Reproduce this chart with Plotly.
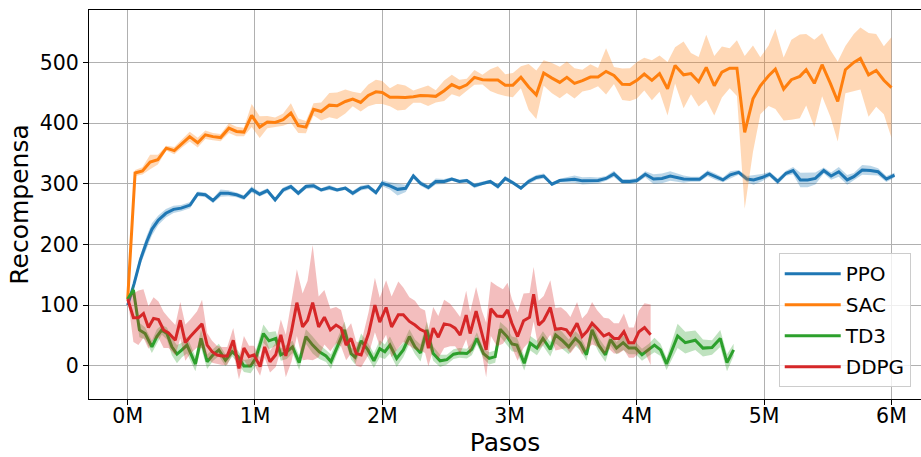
import plotly.graph_objects as go

# ---------------- data (steps in millions) ----------------
ppo_x = [0, 0.05, 0.1, 0.15, 0.19, 0.24, 0.3, 0.36, 0.42, 0.49, 0.55, 0.61, 0.67, 0.73, 0.79, 0.855, 0.913, 0.974, 1.037, 1.097,
         1.158, 1.221, 1.282, 1.34, 1.40, 1.46, 1.52, 1.584, 1.645, 1.71, 1.768, 1.83, 1.89, 1.95, 2.0, 2.06, 2.12, 2.184, 2.244, 2.30,
         2.362, 2.42, 2.486, 2.546, 2.606, 2.664, 2.724, 2.787, 2.848, 2.908, 2.966, 3.026, 3.089, 3.15, 3.21, 3.268, 3.333, 3.394, 3.45, 3.51,
         3.572, 3.635, 3.695, 3.758, 3.82, 3.885, 3.945, 4.0, 4.066, 4.131, 4.197, 4.262, 4.367, 4.425, 4.493, 4.556, 4.616, 4.676, 4.734, 4.80,
         4.865, 4.917, 4.983, 5.043, 5.106, 5.172, 5.227, 5.284, 5.342, 5.402, 5.468, 5.526, 5.586, 5.652, 5.704, 5.77, 5.835, 5.895, 5.96, 6.024]
ppo_mean = [100, 135, 175, 205, 225, 240, 251.5, 258, 260, 265, 283.5, 282, 272.5, 284.6, 284.6, 282, 277.4, 291, 283, 289,
            273.6, 290, 295.6, 284.6, 295.6, 297, 290, 294, 290, 293, 284.6, 293, 295.6, 285.7, 301, 296.7, 291, 292.8, 313, 301,
            294, 304, 304, 308, 304, 305.5, 297, 301, 304, 295.6, 309, 302, 293, 304, 310.5, 313, 299.5, 305.5, 306.6, 307.7,
            305, 305.5, 305.5, 309, 316.5, 304, 304, 305.5, 316, 308, 309, 313, 308, 307.7, 307.7, 317.6, 312, 306.6, 315, 319,
            308, 306.6, 310.5, 316, 304, 317.6, 322, 306.6, 306.6, 309, 322, 313, 320, 306.6, 312, 323, 322, 320, 308, 314.6]
ppo_std = [0, 6, 8, 10, 10, 8, 7, 6, 5, 5, 4, 4, 4, 6, 5, 4, 4, 5, 4, 4,
           4, 4, 4, 4, 4, 4, 3, 4, 3, 3, 4, 4, 4, 4, 5, 6, 10, 6, 4, 4,
           4, 5, 4, 3, 3, 3, 4, 3, 3, 4, 4, 3, 3, 4, 4, 4, 3, 3, 4, 6,
           6, 6, 5, 4, 5, 4, 4, 4, 5, 8, 8, 8, 6, 4, 4, 5, 5, 4, 6, 4,
           5, 8, 6, 4, 5, 4, 6, 12, 12, 10, 5, 6, 8, 8, 6, 8, 8, 6, 5, 4]

sac_x = [0, 0.058, 0.116, 0.176, 0.237, 0.303, 0.366, 0.426, 0.487, 0.55, 0.61, 0.67, 0.73, 0.795, 0.855, 0.913, 0.974, 1.037, 1.097, 1.158,
         1.221, 1.282, 1.34, 1.40, 1.46, 1.52, 1.584, 1.645, 1.71, 1.768, 1.83, 1.89, 1.95, 2.0, 2.06, 2.12, 2.18, 2.244, 2.30, 2.36,
         2.42, 2.486, 2.546, 2.606, 2.664, 2.724, 2.787, 2.848, 2.908, 2.966, 3.026, 3.089, 3.15, 3.21, 3.268, 3.333, 3.394, 3.45, 3.51, 3.572,
         3.635, 3.695, 3.758, 3.82, 3.885, 3.945, 4.0, 4.058, 4.118, 4.178, 4.241, 4.30, 4.367, 4.425, 4.485, 4.545, 4.608, 4.668, 4.729, 4.786,
         4.847, 4.912, 4.97, 5.035, 5.088, 5.153, 5.214, 5.28, 5.33, 5.394, 5.455, 5.52, 5.578, 5.638, 5.704, 5.756, 5.82, 5.88, 5.94, 6.0]
sac_mean = [110, 318, 321.5, 336, 340, 359, 355, 367, 378, 368, 381, 378, 376.5, 392, 386.5, 385.5, 413, 393.7, 402, 401.5,
            406, 417, 396, 393.7, 423, 419.5, 430, 429, 436, 440, 434.5, 446, 452, 451, 443, 443, 442.5, 444, 446, 445.5,
            444.5, 453.7, 464, 458, 463.6, 475.8, 472, 471.3, 471.3, 463, 463, 476, 460, 447, 483, 474.6, 467.5, 476, 466, 470.5,
            476.3, 476.3, 485.7, 479, 464.5, 464, 471, 481.3, 471, 482, 457, 495.6, 480, 482, 468.6, 492.3, 462, 484.6, 491, 491,
            385, 440.5, 462, 478.5, 489.5, 456.5, 472, 477.4, 488.4, 466, 496.7, 466, 436, 488.4, 500.5, 507, 480, 487.3, 471, 459]
sac_std = [0, 5, 6, 12, 8, 4, 6, 7, 8, 8, 7, 6, 6, 8, 8, 7, 19, 18, 10, 8,
           10, 16, 12, 10, 10, 15, 20, 22, 20, 12, 15, 18, 20, 19, 15, 22, 20, 10, 12, 17,
           10, 17, 16, 14, 10, 12, 8, 18, 23, 18, 20, 18, 38, 40, 21, 25, 26, 26, 25, 18,
           21, 15, 38, 14, 26, 27, 30, 27, 33, 30, 44, 30, 55, 34, 41, 54, 49, 42, 33, 46,
           126, 88, 47, 50, 66, 52, 66, 69, 59, 72, 52, 55, 66, 39, 47, 51, 69, 60, 56, 83]

td3_x = [0, 0.045, 0.092, 0.137, 0.19, 0.229, 0.268, 0.308, 0.347, 0.387, 0.426, 0.466, 0.532, 0.576, 0.624, 0.671, 0.716, 0.768, 0.821, 0.866,
         0.913, 0.966, 1.005, 1.066, 1.11, 1.163, 1.203, 1.25, 1.295, 1.347, 1.4, 1.453, 1.505, 1.558, 1.597, 1.65, 1.703, 1.755, 1.787, 1.834,
         1.887, 1.934, 1.98, 2.02, 2.06, 2.113, 2.165, 2.213, 2.257, 2.30, 2.35, 2.40, 2.454, 2.507, 2.56, 2.606, 2.664, 2.703, 2.743, 2.795,
         2.84, 2.887, 2.926, 2.98, 3.018, 3.058, 3.115, 3.163, 3.215, 3.262, 3.32, 3.362, 3.412, 3.465, 3.517, 3.556, 3.604, 3.648, 3.70, 3.753,
         3.793, 3.84, 3.892, 3.937, 3.99, 4.04, 4.094, 4.138, 4.186, 4.233, 4.32, 4.38, 4.459, 4.519, 4.59, 4.655, 4.708, 4.76]
td3_mean = [110, 125, 59, 53, 31, 48, 59, 53, 31, 19, 26, 34, 2.7, 45, 6.6, 18, 26, 9, 23, 15,
            -0.5, -0.5, 12, 53, 41, 45, 18, 23, 31, 5, 48, 34, 23, 16, 6.6, 34, 59, 20, 14, 41,
            26, 8, 28, 23, 34, 12, 26, 48, 31, 21, 59, 20, 8, 10, 19, 21, 20, 27, 45, 20,
            12, 15, 60, 48, 36, 34, 4, 37, 29, 45, 27, 50.5, 42, 31, 45, 37, 18, 59, 34, 18,
            43, 29, 38, 29, 29, 18, 26, 34, 26, 3, 49, 38, 42, 29, 30, 45, 5, 26]
td3_std = [0, 10, 12, 10, 10, 12, 8, 10, 14, 15, 12, 14, 12, 15, 12, 10, 10, 10, 8, 10,
           10, 12, 12, 15, 14, 12, 10, 12, 10, 12, 12, 14, 12, 10, 12, 12, 14, 10, 12, 12,
           12, 12, 14, 12, 14, 14, 12, 12, 12, 14, 14, 12, 10, 8, 8, 8, 8, 10, 10, 8,
           10, 10, 12, 14, 12, 12, 12, 12, 12, 12, 12, 14, 14, 12, 12, 12, 10, 14, 12, 12,
           10, 10, 12, 10, 10, 10, 10, 12, 10, 10, 20, 18, 16, 14, 12, 14, 14, 10]

ddpg_x = [0, 0.045, 0.084, 0.124, 0.163, 0.203, 0.242, 0.282, 0.321, 0.374, 0.413, 0.453, 0.492, 0.545, 0.584, 0.624, 0.663, 0.703, 0.742, 0.782,
          0.829, 0.874, 0.913, 0.953, 0.992, 1.04, 1.076, 1.118, 1.163, 1.203, 1.242, 1.287, 1.329, 1.374, 1.413, 1.453, 1.5, 1.545, 1.592, 1.637,
          1.676, 1.716, 1.755, 1.795, 1.834, 1.892, 1.942, 1.98, 2.03, 2.073, 2.126, 2.165, 2.213, 2.257, 2.297, 2.336, 2.362, 2.40, 2.44, 2.486,
          2.533, 2.572, 2.612, 2.659, 2.69, 2.737, 2.782, 2.816, 2.853, 2.90, 2.948, 2.984, 3.018, 3.063, 3.11, 3.157, 3.189, 3.228, 3.268, 3.32,
          3.36, 3.404, 3.446, 3.478, 3.53, 3.57, 3.61, 3.648, 3.688, 3.74, 3.78, 3.82, 3.858, 3.898, 3.937, 3.976, 4.016, 4.06, 4.108]
ddpg_mean = [110, 79, 79, 86, 63, 78, 76, 59, 54, 42, 75, 38, 48, 60, 69, 34, 23, 17.6, 16, 16,
             42, -4.4, 29, 15, 18, -1.6, 31, 6.6, 18, 51, 16, 57, 104, 64, 75, 104, 64, 80, 59, 67,
             62, 34, 45, 20, 17.6, 53, 100, 72, 96, 64, 84, 84, 73, 67, 60, 56, 29, 62, 47, 69,
             67, 62, 50.5, 83.5, 53, 90, 56, 26, 94, 82, 81, 92, 70, 48, 74, 80, 118, 67, 75, 96,
             60, 61.5, 59, 50.5, 70, 48, 57, 70, 61.5, 49, 53, 45, 45, 56, 38, 38, 56, 63, 51]
ddpg_std = [0, 40, 45, 40, 35, 35, 30, 30, 25, 25, 30, 30, 28, 30, 40, 20, 18, 15, 15, 15,
            20, 18, 20, 18, 15, 15, 18, 18, 20, 25, 35, 50, 55, 55, 65, 95, 50, 45, 35, 30,
            30, 25, 25, 20, 20, 35, 45, 40, 45, 50, 55, 45, 40, 40, 35, 35, 30, 35, 35, 40,
            35, 30, 30, 40, 35, 40, 35, 45, 45, 50, 45, 45, 40, 40, 45, 40, 45, 40, 40, 45,
            35, 35, 30, 30, 35, 30, 30, 35, 30, 30, 25, 25, 25, 30, 25, 25, 35, 40, 50]

names = ["PPO", "SAC", "TD3", "DDPG"]
xs = [ppo_x, sac_x, td3_x, ddpg_x]
means = [ppo_mean, sac_mean, td3_mean, ddpg_mean]
stds = [ppo_std, sac_std, td3_std, ddpg_std]
colors = ["#1f77b4", "#ff7f0e", "#2ca02c", "#d62728"]
fills = ["rgba(31,119,180,0.3)", "rgba(255,127,14,0.3)", "rgba(44,160,44,0.3)", "rgba(214,39,40,0.3)"]

x_ticks = [0, 1, 2, 3, 4, 5, 6]
x_ticktext = ["0M", "1M", "2M", "3M", "4M", "5M", "6M"]
y_ticks = [0, 100, 200, 300, 400, 500]

fig = go.Figure()
for i, name in enumerate(names):
    x, m, s = xs[i], means[i], stds[i]
    assert len(x) == len(m) == len(s), name
    upper = [a + b for a, b in zip(m, s)]
    lower = [a - b for a, b in zip(m, s)]
    fig.add_trace(go.Scatter(x=x + x[::-1], y=upper + lower[::-1], fill="toself",
                             fillcolor=fills[i], line=dict(width=0), mode="lines",
                             showlegend=False, hoverinfo="skip"))
    fig.add_trace(go.Scatter(x=x, y=m, mode="lines", name=name, legendgroup=name,
                             line=dict(color=colors[i], width=3)))

fig.update_layout(
    width=921, height=457,
    margin=dict(l=89, r=0, t=10, b=58),
    plot_bgcolor="white", paper_bgcolor="white",
    font=dict(family="DejaVu Sans", size=20.5, color="black"),
    legend=dict(x=0.829, y=0.375, xanchor="left", yanchor="top",
                bgcolor="rgba(255,255,255,0.8)", bordercolor="#cccccc", borderwidth=1,
                font=dict(size=20), tracegroupgap=2, itemwidth=56),
)
fig.update_xaxes(range=[-0.304, 6.232], tickvals=x_ticks, ticktext=x_ticktext,
                 showgrid=True, gridcolor="#b0b0b0", gridwidth=1,
                 showline=True, linecolor="black", linewidth=1, mirror=True,
                 ticks="outside", ticklen=5, tickcolor="black", zeroline=False,
                 ticklabelstandoff=-7,
                 title=dict(text="Pasos", font=dict(size=25), standoff=6))
fig.update_yaxes(range=[-55, 587], tickvals=y_ticks,
                 showgrid=True, gridcolor="#b0b0b0", gridwidth=1,
                 showline=True, linecolor="black", linewidth=1, mirror=False,
                 ticks="outside", ticklen=5, tickcolor="black", zeroline=False,
                 title=dict(text="Recompensa", font=dict(size=25), standoff=4))

fig.write_html("out.html")
